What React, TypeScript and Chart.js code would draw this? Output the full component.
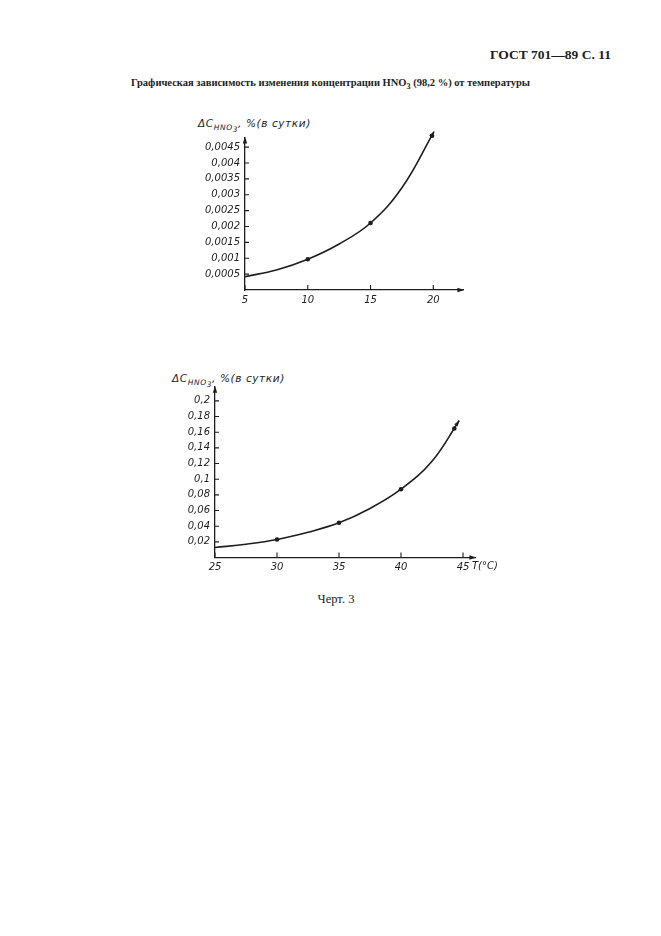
import { useEffect, useRef } from "react"
import { Chart, ChartConfiguration, Plugin, registerables } from "chart.js"

Chart.register(...registerables)

// Chart 1: 5..20 °C
const temp1 = [5, 7.5, 10, 12.5, 15, 17.5, 20.06]
const conc1 = [0.00042, 0.00063, 0.00097, 0.00145, 0.00211, 0.00322, 0.00499]
const markerTemp1 = [10, 15, 19.9]
const markerConc1 = [0.00097, 0.00211, 0.00486]
const yTicks1 = [0.0005, 0.001, 0.0015, 0.002, 0.0025, 0.003, 0.0035, 0.004, 0.0045]
const xTicks1 = [5, 10, 15, 20]

// Chart 2: 25..45 °C
const temp2 = [25, 27.5, 30, 32.5, 35, 37.5, 40, 42.5, 44.7]
const conc2 = [0.0128, 0.017, 0.023, 0.0323, 0.0443, 0.0626, 0.0872, 0.123, 0.175]
const markerTemp2 = [30, 35, 40, 44.3]
const markerConc2 = [0.023, 0.0443, 0.0872, 0.1647]
const yTicks2 = [0.02, 0.04, 0.06, 0.08, 0.1, 0.12, 0.14, 0.16, 0.18, 0.2]
const xTicks2 = [25, 30, 35, 40, 45]

const INK = "#1e1e1e"
const TICK_FONT = { family: "DejaVu Sans", size: 10, style: "italic" as const }

const fmtComma = (v: number, digits: number) => String(+v.toFixed(digits)).replace(".", ",")

function arrowHead(ctx: CanvasRenderingContext2D, x: number, y: number, angle: number, len = 7, half = 2.2) {
  ctx.save()
  ctx.translate(x, y)
  ctx.rotate(angle)
  ctx.beginPath()
  ctx.moveTo(0, 0)
  ctx.lineTo(-len, -half)
  ctx.lineTo(-len, half)
  ctx.closePath()
  ctx.fillStyle = INK
  ctx.fill()
  ctx.restore()
}

// inward tick marks, axis arrows and arrow at the end of the curve
const decor: Plugin = {
  id: "decor",
  afterDraw(chart) {
    const { ctx, chartArea } = chart
    const xs = chart.scales.x
    const ys = chart.scales.y
    ctx.save()
    ctx.strokeStyle = INK
    ctx.lineWidth = 1.1
    ctx.beginPath()
    ys.ticks.forEach((t) => {
      const py = ys.getPixelForValue(t.value)
      ctx.moveTo(chartArea.left, py)
      ctx.lineTo(chartArea.left + 4, py)
    })
    xs.ticks.forEach((t) => {
      const px = xs.getPixelForValue(t.value)
      ctx.moveTo(px, chartArea.bottom)
      ctx.lineTo(px, chartArea.bottom - 5)
    })
    ctx.stroke()
    arrowHead(ctx, chartArea.right + 1, chartArea.bottom, 0)
    arrowHead(ctx, chartArea.left, chartArea.top - 1, -Math.PI / 2)
    const pts = chart.getDatasetMeta(0).data
    const a = pts[pts.length - 2]
    const b = pts[pts.length - 1]
    if (a && b) arrowHead(ctx, b.x, b.y, Math.atan2(b.y - a.y, b.x - a.x), 6, 2)
    ctx.restore()
  },
}

interface PlotProps {
  temps: number[]
  concs: number[]
  markerTemps: number[]
  markerConcs: number[]
  xTicks: number[]
  yTicks: number[]
  xMin: number
  xMax: number
  yMax: number
  digits: number
  yAxisWidth: number
  xAxisHeight: number
  padTop: number
  padRight: number
  width: number
  height: number
  left: number
  top: number
}

function Plot(p: PlotProps) {
  const canvasRef = useRef<HTMLCanvasElement>(null)
  const chartInstance = useRef<Chart | null>(null)

  useEffect(() => {
    if (!canvasRef.current) return
    if (chartInstance.current) chartInstance.current.destroy()

    const config: ChartConfiguration<"line"> = {
      type: "line",
      data: {
        datasets: [
          {
            data: p.temps.map((t, i) => ({ x: t, y: p.concs[i] })),
            borderColor: INK,
            borderWidth: 1.6,
            pointRadius: 0,
            tension: 0.4,
            clip: false,
          },
          {
            data: p.markerTemps.map((t, i) => ({ x: t, y: p.markerConcs[i] })),
            showLine: false,
            pointRadius: 2.3,
            pointBackgroundColor: INK,
            pointBorderWidth: 0,
            clip: false,
          },
        ],
      },
      options: {
        responsive: false,
        animation: false,
        events: [],
        layout: { padding: { top: p.padTop, right: p.padRight, left: 0, bottom: 0 } },
        plugins: { legend: { display: false }, tooltip: { enabled: false } },
        scales: {
          x: {
            type: "linear",
            min: p.xMin,
            max: p.xMax,
            afterBuildTicks: (s) => {
              s.ticks = p.xTicks.map((v) => ({ value: v }))
            },
            afterFit: (s) => {
              s.height = p.xAxisHeight
            },
            grid: { drawOnChartArea: false, drawTicks: false },
            border: { display: true, color: INK, width: 1.3 },
            ticks: { color: INK, font: TICK_FONT, padding: 4, maxRotation: 0, autoSkip: false },
          },
          y: {
            type: "linear",
            min: 0,
            max: p.yMax,
            afterBuildTicks: (s) => {
              s.ticks = p.yTicks.map((v) => ({ value: v }))
            },
            afterFit: (s) => {
              s.width = p.yAxisWidth
            },
            grid: { drawOnChartArea: false, drawTicks: false },
            border: { display: true, color: INK, width: 1.3 },
            ticks: {
              color: INK,
              font: TICK_FONT,
              padding: 5,
              autoSkip: false,
              callback: (v) => fmtComma(Number(v), p.digits),
            },
          },
        },
      },
      plugins: [decor],
    }

    chartInstance.current = new Chart(canvasRef.current, config)

    return () => {
      if (chartInstance.current) {
        chartInstance.current.destroy()
        chartInstance.current = null
      }
    }
  }, [])

  return (
    <canvas
      ref={canvasRef}
      width={p.width}
      height={p.height}
      style={{ position: "absolute", left: p.left, top: p.top, width: p.width, height: p.height }}
    />
  )
}

const italic: React.CSSProperties = {
  position: "absolute",
  fontFamily: "DejaVu Sans",
  fontStyle: "italic",
  fontSize: 10.5,
  color: INK,
  whiteSpace: "nowrap",
  lineHeight: 1,
}

function AxisTitle({ left, top }: { left: number; top: number }) {
  return (
    <div style={{ ...italic, left, top, letterSpacing: 0.6 }}>
      ΔC
      <span style={{ fontSize: 7.5, position: "relative", top: 3 }}>
        HNO<span style={{ position: "relative", top: 2 }}>3</span>
      </span>
      , %(в сутки)
    </div>
  )
}

export default function App() {
  return (
    <div
      style={{
        position: "absolute",
        left: 0,
        top: 0,
        width: 661,
        height: 936,
        background: "#fff",
        overflow: "hidden",
      }}
    >
      <div
        style={{
          position: "absolute",
          right: 50,
          top: 47,
          fontFamily: "Liberation Serif",
          fontWeight: "bold",
          fontSize: 13.5,
          color: INK,
          whiteSpace: "nowrap",
        }}
      >
        ГОСТ 701—89 С. 11
      </div>
      <div
        style={{
          position: "absolute",
          left: 0,
          width: 661,
          top: 77,
          textAlign: "center",
          fontFamily: "Liberation Serif",
          fontWeight: "bold",
          fontSize: 10.5,
          color: INK,
          whiteSpace: "nowrap",
        }}
      >
        Графическая зависимость изменения концентрации HNO<sub style={{ fontSize: 8 }}>3</sub> (98,2 %) от температуры
      </div>

      <AxisTitle left={198} top={118} />
      <Plot
        temps={temp1}
        concs={conc1}
        markerTemps={markerTemp1}
        markerConcs={markerConc1}
        xTicks={xTicks1}
        yTicks={yTicks1}
        xMin={5}
        xMax={22.4}
        yMax={0.0048}
        digits={4}
        yAxisWidth={65}
        xAxisHeight={30}
        padTop={27.6}
        padRight={16.6}
        width={300}
        height={210}
        left={180}
        top={110}
      />

      <AxisTitle left={172} top={373} />
      <Plot
        temps={temp2}
        concs={conc2}
        markerTemps={markerTemp2}
        markerConcs={markerConc2}
        xTicks={xTicks2}
        yTicks={yTicks2}
        xMin={25}
        xMax={46}
        yMax={0.218}
        digits={2}
        yAxisWidth={65}
        xAxisHeight={27.5}
        padTop={21.8}
        padRight={14.6}
        width={340}
        height={220}
        left={150}
        top={365}
      />
      <div style={{ ...italic, fontSize: 10, left: 472, top: 561 }}>T(°C)</div>

      <div
        style={{
          position: "absolute",
          left: 0,
          width: 672,
          top: 592,
          textAlign: "center",
          fontFamily: "Liberation Serif",
          fontSize: 12.5,
          color: INK,
        }}
      >
        Черт. 3
      </div>
    </div>
  )
}
